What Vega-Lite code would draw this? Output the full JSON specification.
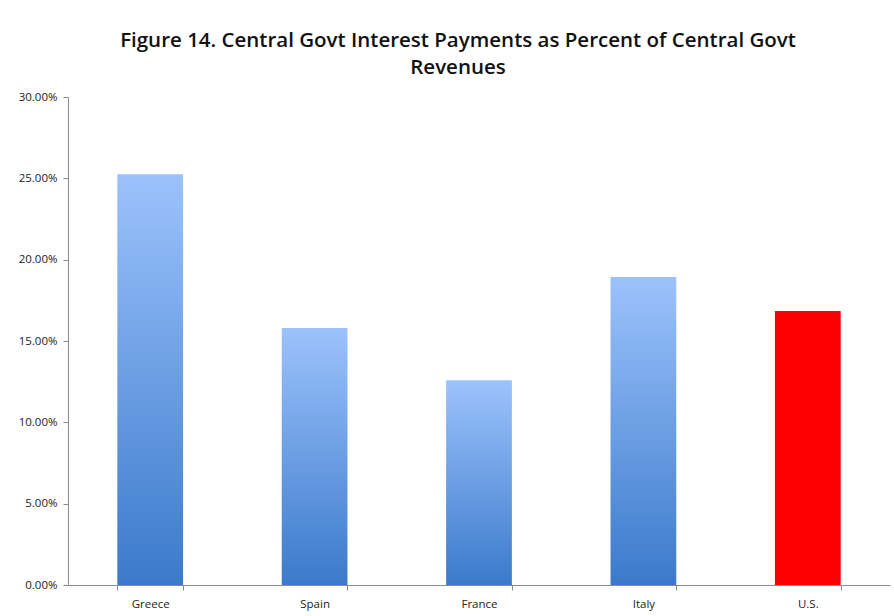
{
  "$schema": "https://vega.github.io/schema/vega-lite/v6.json",
  "width": 822,
  "height": 488,
  "autosize": {"type": "none"},
  "padding": {"left": 68, "top": 97, "right": 4, "bottom": 31},
  "background": "white",
  "title": {
    "text": ["Figure 14. Central Govt Interest Payments as Percent of Central Govt", "Revenues"],
    "font": "Open Sans",
    "fontSize": 20.5,
    "fontWeight": 600,
    "color": "#111111",
    "anchor": "middle",
    "frame": "group",
    "dx": -21,
    "offset": 13,
    "lineHeight": 27
  },
  "config": {
    "view": {"stroke": null},
    "axis": {
      "labelFont": "Open Sans",
      "labelFontSize": 11.5,
      "labelColor": "#222222",
      "domainColor": "#8c8c8c",
      "tickColor": "#8c8c8c",
      "grid": false,
      "title": null
    }
  },
  "data": {
    "values": [
      {"country": "Greece", "pct": 0.2525, "us": false},
      {"country": "Spain", "pct": 0.158, "us": false},
      {"country": "France", "pct": 0.1258, "us": false},
      {"country": "Italy", "pct": 0.1893, "us": false},
      {"country": "U.S.", "pct": 0.1684, "us": true}
    ]
  },
  "encoding": {
    "x": {
      "field": "country",
      "type": "nominal",
      "sort": null,
      "scale": {"paddingInner": 0.6, "paddingOuter": 0.3},
      "axis": {"labelAngle": 0, "tickBand": "extent", "tickSize": 5, "labelPadding": 8, "domainWidth": 1}
    },
    "y": {
      "field": "pct",
      "type": "quantitative",
      "scale": {"domain": [0, 0.3], "nice": false},
      "axis": {"format": ".2%", "values": [0, 0.05, 0.1, 0.15, 0.2, 0.25, 0.3], "tickSize": 5, "labelPadding": 6}
    }
  },
  "layer": [
    {
      "transform": [{"filter": "!datum.us"}],
      "mark": {
        "type": "bar",
        "color": {
          "gradient": "linear",
          "x1": 0, "y1": 0, "x2": 0, "y2": 1,
          "stops": [
            {"offset": 0, "color": "#9cc2fc"},
            {"offset": 1, "color": "#3b7acb"}
          ]
        }
      }
    },
    {
      "transform": [{"filter": "datum.us"}],
      "mark": {"type": "bar", "color": "#ff0000"}
    }
  ]
}
